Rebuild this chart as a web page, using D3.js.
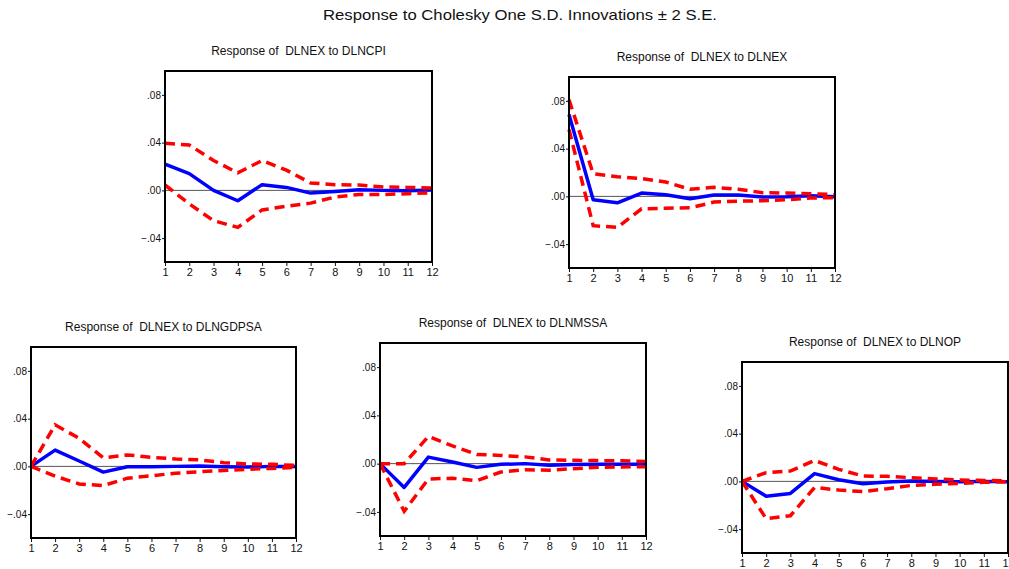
<!DOCTYPE html>
<html>
<head>
<meta charset="utf-8">
<script src="https://cdn.jsdelivr.net/npm/d3@7"></script>
<style>
  body { margin: 0; background: #fff; }
  svg { display: block; font-family: "Liberation Sans", Arial, sans-serif; }
  .ptitle { white-space: pre; }
</style>
</head>
<body>
<div id="chart"></div>
<script>
// Impulse response data (periods 1..12)
const periods = [1, 2, 3, 4, 5, 6, 7, 8, 9, 10, 11, 12];
const yTicks = [-0.04, 0.00, 0.04, 0.08];
const shocks = ["DLNCPI", "DLNEX", "DLNGDPSA", "DLNMSSA", "DLNOP"];

const respCPI  = [0.022, 0.014, 0.000, -0.0087, 0.0048, 0.0025, -0.0023, -0.001, 0.0005, 0.000, -0.0003, 0.0003];
const upperCPI = [0.0395, 0.038, 0.025, 0.0147, 0.025, 0.017, 0.0062, 0.0048, 0.0045, 0.0028, 0.0025, 0.002];
const lowerCPI = [0.0045, -0.0113, -0.0254, -0.031, -0.0164, -0.0133, -0.0107, -0.0056, -0.0034, -0.0034, -0.0028, -0.002];

const respEX  = [0.0685, -0.0028, -0.0054, 0.0028, 0.0014, -0.002, 0.0011, 0.0011, -0.0006, -0.0003, 0.0006, -0.0003];
const upperEX = [0.081, 0.019, 0.0164, 0.015, 0.012, 0.006, 0.0076, 0.006, 0.0031, 0.0028, 0.0023, 0.0014];
const lowerEX = [0.056, -0.0245, -0.026, -0.0104, -0.0099, -0.0096, -0.0048, -0.004, -0.0037, -0.0028, -0.0014, -0.0011];

const respGDP  = [0.000, 0.0136, 0.0045, -0.0048, -0.0003, -0.0003, 0.000, 0.0003, -0.0003, -0.0006, 0.000, 0.000];
const upperGDP = [0.000, 0.0348, 0.0235, 0.0071, 0.0096, 0.0076, 0.0062, 0.0054, 0.0031, 0.002, 0.0017, 0.0008];
const lowerGDP = [0.000, -0.0082, -0.0147, -0.0161, -0.0099, -0.0079, -0.0057, -0.0045, -0.0034, -0.0025, -0.0017, -0.0008];

const respMS  = [0.000, -0.0197, 0.0054, 0.0014, -0.0031, -0.0006, 0.000, -0.0014, -0.0008, -0.0006, -0.0006, -0.0006];
const upperMS = [0.000, 0.000, 0.0225, 0.0147, 0.0076, 0.0068, 0.0056, 0.0031, 0.0028, 0.0025, 0.0023, 0.0017];
const lowerMS = [0.000, -0.0395, -0.0127, -0.0121, -0.0141, -0.007, -0.0051, -0.0054, -0.0042, -0.0031, -0.0028, -0.0025];

const respOP  = [0.000, -0.0124, -0.0101, 0.0065, 0.0014, -0.002, -0.0006, 0.0003, 0.000, -0.0003, 0.000, -0.0003];
const upperOP = [0.000, 0.0073, 0.0087, 0.0175, 0.0101, 0.0045, 0.0042, 0.0031, 0.002, 0.0011, 0.0008, 0.0003];
const lowerOP = [0.000, -0.0313, -0.0288, -0.0051, -0.0073, -0.0085, -0.0062, -0.0034, -0.0025, -0.0017, -0.0008, -0.0003];

const responses = [respCPI, respEX, respGDP, respMS, respOP];
const uppers = [upperCPI, upperEX, upperGDP, upperMS, upperOP];
const lowers = [lowerCPI, lowerEX, lowerGDP, lowerMS, lowerOP];

// Panel placement (frame boxes in page pixels)
const panels = [
  { x: 165, y: 71,  w: 267, h: 191 },
  { x: 569, y: 77,  w: 266, h: 191 },
  { x: 31,  y: 347, w: 265, h: 191 },
  { x: 380, y: 343, w: 266, h: 193 },
  { x: 742, y: 362, w: 266, h: 191 }
];

const width = 1009, height = 569;
const svg = d3.select("#chart").append("svg")
  .attr("width", width)
  .attr("height", height);

// Main title
svg.append("text")
  .attr("x", 520)
  .attr("y", 20)
  .attr("text-anchor", "middle")
  .attr("font-size", 14.5)
  .attr("textLength", 394)
  .attr("lengthAdjust", "spacingAndGlyphs")
  .attr("fill", "#111")
  .text("Response to Cholesky One S.D. Innovations \u00b1 2 S.E.");

const fmt = v => d3.format(".2f")(v).replace("0.", ".");

shocks.forEach((shock, i) => {
  const p = panels[i];
  const g = svg.append("g").attr("transform", `translate(${p.x},${p.y})`);

  const x = d3.scaleLinear().domain([1, 12]).range([0, p.w]);
  const y = d3.scaleLinear().domain([-0.06, 0.10]).range([p.h, 0]);

  // panel title
  g.append("text")
    .attr("class", "ptitle")
    .attr("x", p.w / 2)
    .attr("y", -16)
    .attr("text-anchor", "middle")
    .attr("font-size", 12)
    .attr("fill", "#111")
    .text(`Response of  DLNEX to ${shock}`);

  // axes
  const yAxis = g.append("g")
    .call(d3.axisLeft(y).tickValues(yTicks).tickFormat(fmt).tickSize(3).tickPadding(1));
  const xAxis = g.append("g")
    .attr("transform", `translate(0,${p.h})`)
    .call(d3.axisBottom(x).tickValues(periods).tickFormat(d3.format("d")).tickSize(4).tickPadding(2));
  [yAxis, xAxis].forEach(a => {
    a.select(".domain").remove();
    a.selectAll("text").attr("font-size", 10).attr("fill", "#111")
      .attr("font-family", "'Liberation Sans', Arial, sans-serif");
    a.selectAll("line").attr("stroke", "#111");
  });
  xAxis.selectAll("text").attr("font-size", 11);

  // zero line
  g.append("line")
    .attr("x1", 0).attr("x2", p.w)
    .attr("y1", y(0)).attr("y2", y(0))
    .attr("stroke", "#555")
    .attr("stroke-width", 1);

  const line = d3.line().x((d, k) => x(periods[k])).y(d => y(d));

  g.append("path")
    .datum(responses[i])
    .attr("d", line)
    .attr("fill", "none")
    .attr("stroke", "#0000ff")
    .attr("stroke-width", 3.5)
    .attr("stroke-linejoin", "round");

  [uppers[i], lowers[i]].forEach(band => {
    g.append("path")
      .datum(band)
      .attr("d", line)
      .attr("fill", "none")
      .attr("stroke", "#ff0000")
      .attr("stroke-width", 3.5)
      .attr("stroke-dasharray", "10,6")
      .attr("stroke-linecap", "butt");
  });

  // frame
  g.append("rect")
    .attr("width", p.w)
    .attr("height", p.h)
    .attr("fill", "none")
    .attr("stroke", "#000")
    .attr("stroke-width", 2);
});
</script>
</body>
</html>
